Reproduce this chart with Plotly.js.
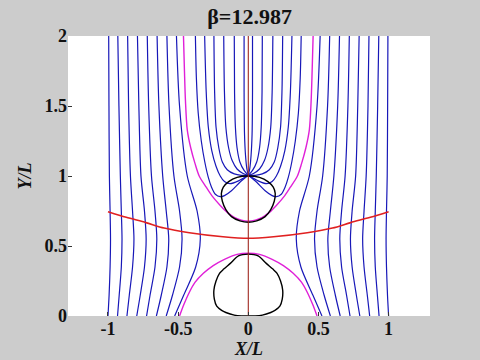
<!DOCTYPE html>
<html>
<head>
<meta charset="utf-8">
<script src="https://cdn.plot.ly/plotly-3.0.1.min.js"></script>
<style>html,body{margin:0;padding:0;background:#cccccc;}</style>
</head>
<body>
<div id="chart" style="width:480px;height:360px;"></div>
<script>
// Right-half data (x >= 0); left half is the mirror image.
const OUTER_Y = [0, 0.15, 0.35, 0.55, 0.75, 1.0, 1.5, 2.0];
const OUTER_X1 = [0.525, 0.46, 0.375, 0.342, 0.365, 0.435, 0.49, 0.512];
const OUTER_X2 = [0.585, 0.54, 0.49, 0.472, 0.49, 0.53, 0.565, 0.58];
const OUTER_X3 = [0.655, 0.62, 0.58, 0.567, 0.585, 0.61, 0.637, 0.65];
const OUTER_X4 = [0.725, 0.70, 0.665, 0.652, 0.665, 0.69, 0.71, 0.72];
const OUTER_X5 = [0.795, 0.77, 0.74, 0.728, 0.74, 0.765, 0.78, 0.79];
const OUTER_X6 = [0.865, 0.848, 0.825, 0.815, 0.825, 0.84, 0.853, 0.86];
const OUTER_X7 = [0.932, 0.92, 0.905, 0.9, 0.905, 0.912, 0.922, 0.93];
const OUTER_X8 = [1.0, 0.992, 0.985, 0.982, 0.985, 0.99, 0.993, 0.995];

const INNER1_X = [0, 0.01, 0.02, 0.027, 0.03, 0.03];
const INNER1_Y = [1.005, 1.05, 1.15, 1.3, 1.6, 2];
const INNER2_X = [0, 0.03, 0.06, 0.08, 0.092, 0.098, 0.1];
const INNER2_Y = [1.005, 1.04, 1.1, 1.2, 1.35, 1.6, 2];
const INNER3_X = [0, 0.04, 0.08, 0.115, 0.14, 0.16, 0.17, 0.175];
const INNER3_Y = [1.005, 1.02, 1.05, 1.11, 1.2, 1.35, 1.6, 2];
const INNER4_X = [0, 0.05, 0.1, 0.15, 0.185, 0.21, 0.23, 0.24, 0.245];
const INNER4_Y = [1.005, 1.005, 1.015, 1.045, 1.1, 1.2, 1.35, 1.6, 2];
const INNER5_X = [0, 0.07, 0.13, 0.17, 0.2, 0.23, 0.26, 0.285, 0.3, 0.311];
const INNER5_Y = [1.005, 0.965, 0.945, 0.96, 1.0, 1.07, 1.18, 1.35, 1.6, 2];
const INNER6_X = [0, 0.06, 0.12, 0.17, 0.2, 0.235, 0.262, 0.285, 0.31, 0.335, 0.357, 0.37, 0.377];
const INNER6_Y = [1.005, 0.955, 0.895, 0.86, 0.852, 0.87, 0.92, 0.99, 1.1, 1.25, 1.45, 1.7, 2];

const SEP_UP_X = [0, 0.05, 0.1, 0.15, 0.2, 0.26, 0.3, 0.35, 0.38, 0.41, 0.435, 0.448, 0.455, 0.462];
const SEP_UP_Y = [0.677, 0.685, 0.705, 0.74, 0.79, 0.86, 0.92, 1.0, 1.09, 1.2, 1.33, 1.54, 1.75, 2.0];
const SEP_LO_X = [0, 0.08, 0.17, 0.25, 0.32, 0.38, 0.42, 0.46, 0.49];
const SEP_LO_Y = [0.448, 0.44, 0.405, 0.36, 0.305, 0.24, 0.17, 0.08, 0];

const LOOP_UP_X = [0, 0.08, 0.14, 0.178, 0.192, 0.185, 0.16, 0.12, 0.06, 0];
const LOOP_UP_Y = [1.0, 0.99, 0.96, 0.92, 0.875, 0.82, 0.76, 0.71, 0.68, 0.67];
const LOOP_LO_X = [0, 0.07, 0.128, 0.175, 0.205, 0.23, 0.245, 0.242, 0.225, 0.19, 0.16, 0.1, 0.05, 0];
const LOOP_LO_Y = [0.442, 0.43, 0.376, 0.335, 0.305, 0.25, 0.186, 0.12, 0.07, 0.04, 0.025, 0.006, 0, 0];

const RED_X = [0, 0.18, 0.42, 0.6, 0.73, 0.87, 1.0];
const RED_Y = [0.555, 0.566, 0.595, 0.628, 0.667, 0.705, 0.745];

const AXIS_X = [0, 0];
const AXIS_Y = [0, 2];

const X_TICKS = [-1, -0.5, 0, 0.5, 1];
const X_TICKTEXT = ['-1', '-0.5', '0', '0.5', '1'];
const Y_TICKS = [0, 0.5, 1, 1.5, 2];
const Y_TICKTEXT = ['0', '0.5', '1', '1.5', '2'];

const TITLE = 'β=12.987';

const BLUE = '#1818b8';
const traces = [];
function sym(xs, ys, color, width) {
  const base = {mode: 'lines', hoverinfo: 'skip', showlegend: false,
    line: {color: color, width: width, shape: 'spline', smoothing: 0.8}};
  traces.push(Object.assign({}, base, {x: xs.slice(), y: ys.slice()}));
  traces.push(Object.assign({}, base, {x: xs.map(v => -v), y: ys.slice()}));
}
function arch(xs, ys, color, width) {
  const lx = xs.slice().reverse().map(v => -v);
  const ly = ys.slice().reverse();
  traces.push({mode: 'lines', hoverinfo: 'skip', showlegend: false,
    x: lx.concat(xs.slice(1)), y: ly.concat(ys.slice(1)),
    line: {color: color, width: width, shape: 'spline', smoothing: 0.8}});
}
function loop(xs, ys, color, width) {
  const lx = xs.slice().reverse().map(v => -v);
  const ly = ys.slice().reverse();
  traces.push({mode: 'lines', hoverinfo: 'skip', showlegend: false,
    x: xs.concat(lx.slice(1)), y: ys.concat(ly.slice(1)),
    line: {color: color, width: width, shape: 'spline', smoothing: 0.8}});
}

[OUTER_X1, OUTER_X2, OUTER_X3, OUTER_X4, OUTER_X5, OUTER_X6, OUTER_X7, OUTER_X8]
  .forEach(xs => sym(xs, OUTER_Y, BLUE, 1.2));
[[INNER1_X, INNER1_Y], [INNER2_X, INNER2_Y], [INNER3_X, INNER3_Y],
 [INNER4_X, INNER4_Y], [INNER5_X, INNER5_Y], [INNER6_X, INNER6_Y]]
  .forEach(p => sym(p[0], p[1], BLUE, 1.2));
arch(SEP_UP_X, SEP_UP_Y, '#e020d8', 1.4);
arch(SEP_LO_X, SEP_LO_Y, '#e020d8', 1.4);
loop(LOOP_UP_X, LOOP_UP_Y, '#000000', 1.4);
loop(LOOP_LO_X, LOOP_LO_Y, '#000000', 1.4);
arch(RED_X, RED_Y, '#e02020', 1.6);
traces.push({mode: 'lines', hoverinfo: 'skip', showlegend: false, x: AXIS_X, y: AXIS_Y,
  line: {color: '#a02820', width: 1.1}});

const SERIF = '"Liberation Serif", "Times New Roman", Times, serif';
const tickFont = {family: SERIF, size: 18, color: '#111', weight: 'bold'};
const layout = {
  width: 480, height: 360,
  paper_bgcolor: '#cccccc', plot_bgcolor: '#ffffff',
  margin: {l: 68, r: 50, t: 36, b: 44},
  showlegend: false,
  title: {text: TITLE, x: 0.52, xanchor: 'center', y: 0.955, yanchor: 'middle',
    font: {family: SERIF, size: 22, color: '#111', weight: 'bold'}},
  xaxis: {range: [-1.285, 1.295], tickvals: X_TICKS, ticktext: X_TICKTEXT,
    showgrid: false, zeroline: false, showline: false, ticks: 'inside', ticklen: 4, tickcolor: '#333',
    tickfont: tickFont, fixedrange: true,
    title: {text: '<i>X/L</i>', standoff: 0, font: {family: SERIF, size: 18, color: '#111', weight: 'bold'}}},
  yaxis: {range: [0, 2], tickvals: Y_TICKS, ticktext: Y_TICKTEXT,
    showgrid: false, zeroline: false, showline: false, ticks: 'inside', ticklen: 4, tickcolor: '#333',
    tickfont: tickFont, fixedrange: true,
    title: {text: '<i>Y/L</i>', standoff: 8, font: {family: SERIF, size: 18, color: '#111', weight: 'bold'}}}
};
Plotly.newPlot('chart', traces, layout, {staticPlot: true, displayModeBar: false});
</script>
</body>
</html>
